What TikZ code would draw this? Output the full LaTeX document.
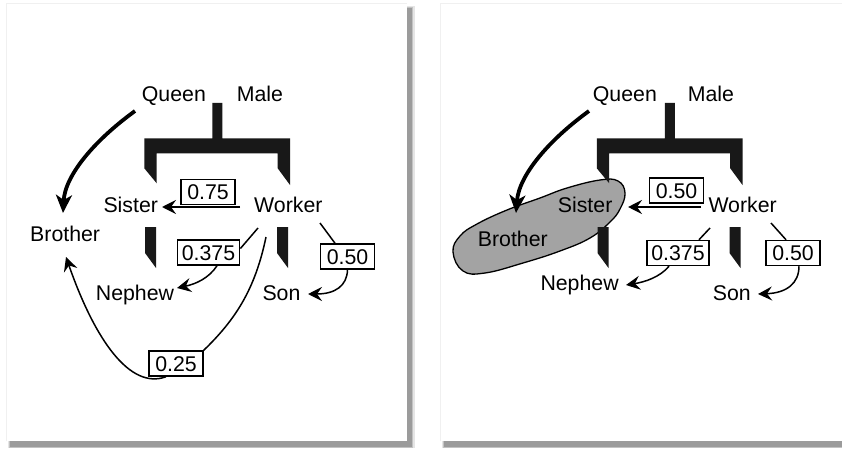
\documentclass[tikz,border=0pt]{standalone}
\usepackage{fontspec}
\setmainfont{Liberation Sans}
\usetikzlibrary{arrows.meta}
\definecolor{ink}{RGB}{24,24,24}
\definecolor{blobgray}{RGB}{163,163,163}

% black kinship bracket: parents on top, two offspring legs below
\newcommand\kinbracket{%
  \fill[ink] (212.3,103) -- (222.3,103) -- (222.3,138.3) -- (290,138.3) -- (290,185)
    -- (277.7,168.3) -- (277.7,153.3) -- (156.7,153.3) -- (156.7,183.3)
    -- (144.3,168.3) -- (144.3,138.3) -- (212.3,138.3) -- cycle;
  \fill[ink] (145,227) -- (156,227) -- (156,268) -- (145,253) -- cycle;
  \fill[ink] (277,227) -- (288,227) -- (288,268) -- (277,253) -- cycle;}

% card with a soft drop shadow
\newcommand\card[4]{%
  \fill[black,opacity=0.10] (#1+2,#2+3) rectangle (#3+8,#4+7);
  \fill[black,opacity=0.15] (#1+3,#2+4) rectangle (#3+6,#4+6.5);
  \fill[black,opacity=0.20] (#1+4,#2+5) rectangle (#3+5,#4+6);
  \fill[white] (#1,#2) rectangle (#3,#4);
  \draw[black!6,line width=0.6pt] (#1,#4) -- (#1,#2) -- (#3,#2);}

\begin{document}
\begin{tikzpicture}[x=1pt,y=-1pt,
  lbl/.style={anchor=base west,inner sep=0pt,font=\fontsize{21.3}{24}\selectfont},
  valbox/.style={draw,line width=1.5pt,inner xsep=4.5pt,inner ysep=5pt,
    text height=15pt,text depth=0pt,minimum width=54pt,
    font=\fontsize{21.3}{24}\selectfont},
  link/.style={line width=1.5pt},
  linkarrow/.style={line width=1.5pt,-{Stealth[length=14pt,width=14pt,inset=5pt]}},
  heavyarrow/.style={line width=3.8pt,-{Stealth[length=18pt,width=16pt,inset=5pt]}}]

\fill[white] (0,0) rectangle (842,449);
\useasboundingbox (0,0) rectangle (842,449);

\card{6}{3}{407}{441}
\card{440}{3}{852}{441}

% ---------------- left card: worker's view ----------------
\kinbracket

\node[lbl] (qL) at (141.7,102) {Queen};
\node[lbl] (mL) at (236.7,102) {Male};
\node[lbl] (sL) at (103.3,212.7) {Sister};
\node[lbl] (wL) at (254,212.7) {Worker};
\node[lbl] (bL) at (30,241.7) {Brother};
\node[lbl] (nL) at (95.7,300) {Nephew};
\node[lbl] (oL) at (262.3,300) {Son};

\node[valbox] (pSL) at (208,192) {0.75};
\node[valbox] (pNL) at (208.5,252.5) {0.375};
\node[valbox] (pOL) at (347.5,256.5) {0.50};
\node[valbox] (pBL) at (176,363.5) {0.25};

\coordinate (qLout) at (135,111);
\coordinate (bLtop) at (63,213);
\coordinate (wLs) at (240,207);
\coordinate (sLin) at (162,207);
\coordinate (wLn) at (258,228);
\coordinate (nLin) at (177,288);
\coordinate (wLo) at (320,223);
\coordinate (oLin) at (308,294);
\coordinate (wLb) at (266,237);
\coordinate (bLlow) at (66,257);

\draw[heavyarrow] (qLout) .. controls (95,140) and (65,175) .. (bLtop);
\draw[linkarrow] (wLs) -- (sLin);
\draw[link] (wLn) -- ([yshift=4pt]pNL.east);
\draw[linkarrow] ([xshift=8.5pt]pNL.south) .. controls (209,278) and (196,284) .. (nLin);
\draw[link] (wLo) -- ([xshift=-12.5pt]pOL.north);
\draw[linkarrow] (pOL.south) .. controls (347,286) and (335,294) .. (oLin);
\draw[link] (wLb) .. controls (255,290) and (235,320) .. (pBL.north east);
\draw[linkarrow] ([xshift=-10pt]pBL.south) .. controls (130,390) and (95,340) .. (bLlow);

% ---------------- right card: sister and brother merged ----------------
\draw[line width=1.3pt,fill=blobgray] plot[smooth cycle,tension=0.7] coordinates {
  (453,252) (460,236) (477,224) (507,210) (540,198) (567,188) (600,180)
  (618,181) (625,193) (620,209) (610,222) (590,238) (560,251) (523,263)
  (485,273) (463,271)};

\begin{scope}[xshift=452.5pt]
  \kinbracket
\end{scope}

\node[lbl] (qR) at (592.7,102) {Queen};
\node[lbl] (mR) at (687.7,102) {Male};
\node[lbl] (sR) at (557.7,212.7) {Sister};
\node[lbl] (wR) at (708.3,212.7) {Worker};
\node[lbl] (bR) at (477.7,246.7) {Brother};
\node[lbl] (nR) at (540.3,290.7) {Nephew};
\node[lbl] (oR) at (712.7,300.7) {Son};

\node[valbox] (pSR) at (676.5,190.5) {0.50};
\node[valbox] (pNR) at (678,253) {0.375};
\node[valbox] (pOR) at (793,253) {0.50};

\coordinate (qRout) at (589,111);
\coordinate (bRtop) at (516,213);
\coordinate (wRs) at (701,207);
\coordinate (sRin) at (628,207);
\coordinate (wRn) at (710,228);
\coordinate (nRin) at (626,285);
\coordinate (wRo) at (771,223);
\coordinate (oRin) at (758,294);

\draw[heavyarrow] (qRout) .. controls (549,140) and (519,175) .. (bRtop);
\draw[linkarrow] (wRs) -- (sRin);
\draw[link] (wRn) -- ([xshift=21pt]pNR.north);
\draw[linkarrow] ([xshift=-9pt]pNR.south) .. controls (660,277) and (645,282) .. (nRin);
\draw[link] (wRo) -- ([xshift=-7pt]pOR.north);
\draw[linkarrow] ([xshift=6pt]pOR.south) .. controls (799,283) and (787,293) .. (oRin);

\end{tikzpicture}
\end{document}
